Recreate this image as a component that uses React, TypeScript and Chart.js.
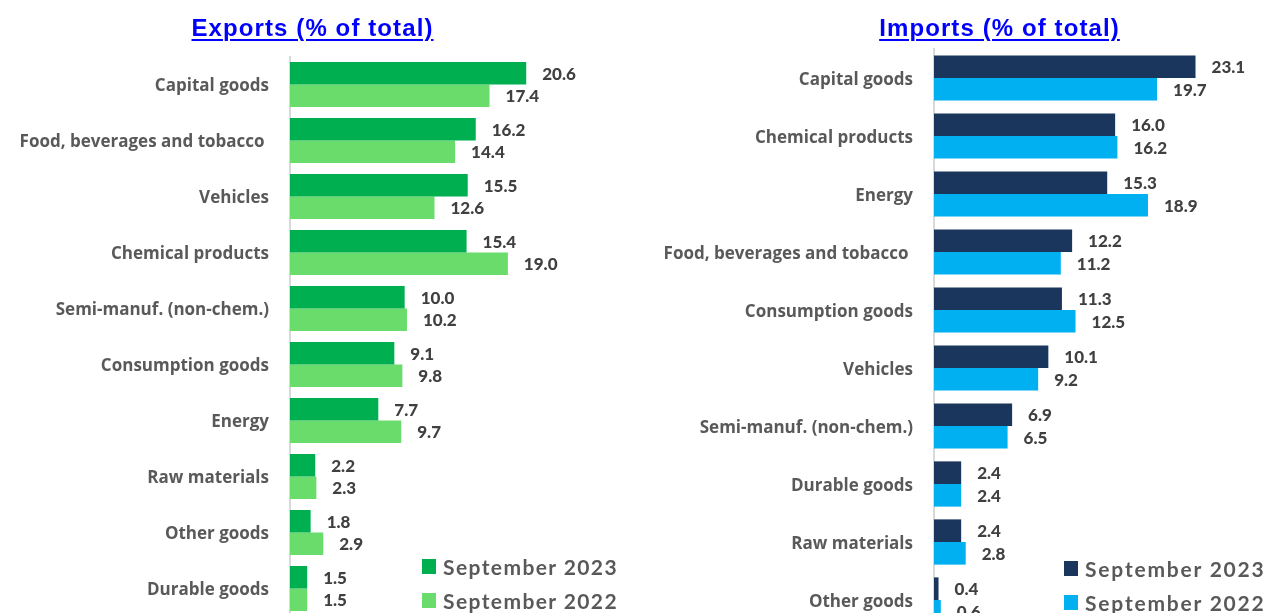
import React, { useEffect, useRef } from "react";
import { Chart, registerables } from "chart.js";

Chart.register(...registerables);

const exportCategories = [
  "Capital goods",
  "Food, beverages and tobacco ",
  "Vehicles",
  "Chemical products",
  "Semi-manuf. (non-chem.)",
  "Consumption goods",
  "Energy",
  "Raw materials",
  "Other goods",
  "Durable goods",
];
const exports2023 = [20.6, 16.2, 15.5, 15.4, 10.0, 9.1, 7.7, 2.2, 1.8, 1.5];
const exports2022 = [17.4, 14.4, 12.6, 19.0, 10.2, 9.8, 9.7, 2.3, 2.9, 1.5];

const importCategories = [
  "Capital goods",
  "Chemical products",
  "Energy",
  "Food, beverages and tobacco ",
  "Consumption goods",
  "Vehicles",
  "Semi-manuf. (non-chem.)",
  "Durable goods",
  "Raw materials",
  "Other goods",
];
const imports2023 = [23.1, 16.0, 15.3, 12.2, 11.3, 10.1, 6.9, 2.4, 2.4, 0.4];
const imports2022 = [19.7, 16.2, 18.9, 11.2, 12.5, 9.2, 6.5, 2.4, 2.8, 0.6];

const seriesLabels = ["September 2023", "September 2022"];
const titles = ["Exports (% of total)", "Imports (% of total)"];

const FONT = "Lato, 'Open Sans', sans-serif";
const TICK_FONT = "'Open Sans', Lato, sans-serif";

const valueLabels = {
  id: "valueLabels",
  afterDatasetsDraw(chart: any) {
    const ctx = chart.ctx;
    ctx.save();
    ctx.font = `900 17px ${FONT}`;
    ctx.fillStyle = "#404040";
    ctx.textBaseline = "middle";
    ctx.textAlign = "left";
    chart.data.datasets.forEach((ds: any, i: number) => {
      chart.getDatasetMeta(i).data.forEach((bar: any, j: number) => {
        const v = ds.data[j] as number;
        ctx.fillText(v.toFixed(1), bar.x + 16, bar.y + 1);
      });
    });
    ctx.restore();
  },
};

type PanelProps = {
  left: number;
  width: number;
  height: number;
  padTop: number;
  padBottom: number;
  axisWidth: number;
  xMax: number;
  catPct: number;
  categories: string[];
  a: number[];
  b: number[];
  colors: string[];
};

function Panel(p: PanelProps) {
  const ref = useRef<HTMLCanvasElement | null>(null);
  useEffect(() => {
    if (!ref.current) return;
    const chart = new Chart(ref.current, {
      type: "bar",
      data: {
        labels: p.categories,
        datasets: [
          {
            label: seriesLabels[0],
            data: p.a,
            backgroundColor: p.colors[0],
            barPercentage: 1,
            categoryPercentage: p.catPct,
          },
          {
            label: seriesLabels[1],
            data: p.b,
            backgroundColor: p.colors[1],
            barPercentage: 1,
            categoryPercentage: p.catPct,
          },
        ],
      },
      options: {
        indexAxis: "y",
        responsive: false,
        animation: false,
        layout: { padding: { top: p.padTop, bottom: p.padBottom, left: 0, right: 0 } },
        plugins: {
          legend: { display: false },
          tooltip: { enabled: false },
          title: { display: false },
        },
        scales: {
          x: {
            display: false,
            min: 0,
            max: p.xMax,
            grid: { display: false },
          },
          y: {
            grid: { display: false, drawTicks: false },
            border: { display: true, color: "#d9d9d9", width: 2 },
            ticks: {
              padding: 21,
              labelOffset: 2,
              color: "#595959",
              font: { family: TICK_FONT, size: 17, weight: "bold" },
            },
            afterFit: (s: any) => {
              s.width = p.axisWidth;
            },
          },
        },
      },
      plugins: [valueLabels],
    } as any);
    return () => chart.destroy();
  }, []);
  return (
    <canvas
      ref={ref}
      width={p.width}
      height={p.height}
      style={{ position: "absolute", left: p.left, top: 0, width: p.width, height: p.height }}
    />
  );
}

function Title({ text, cx }: { text: string; cx: number }) {
  return (
    <div
      style={{
        position: "absolute",
        left: cx - 200,
        width: 400,
        top: 13,
        textAlign: "center",
        fontFamily: "'Liberation Sans', Arial, sans-serif",
        fontWeight: "bold",
        fontSize: 24,
        letterSpacing: 1.1,
        color: "#0000ff",
        textDecoration: "underline",
        textDecorationThickness: 2,
        textUnderlineOffset: 3,
        lineHeight: "30px",
        whiteSpace: "nowrap",
      }}
    >
      {text}
    </div>
  );
}

function Legend({ left, top, colors, spacing }: { left: number; top: number; colors: string[]; spacing: number }) {
  return (
    <div style={{ position: "absolute", left, top }}>
      {seriesLabels.map((l, i) => (
        <div
          key={l}
          style={{ display: "flex", alignItems: "center", height: 34 }}
        >
          <div style={{ width: 14, height: 15, background: colors[i], marginRight: 7 }} />
          <span
            style={{
              fontFamily: FONT,
              fontWeight: "bold",
              fontSize: 21,
              letterSpacing: spacing,
              color: "#595959",
              whiteSpace: "nowrap",
            }}
          >
            {l}
          </span>
        </div>
      ))}
    </div>
  );
}

export default function App() {
  const exportColors = ["#00b050", "#69dc6c"];
  const importColors = ["#1a365d", "#00b0f0"];
  return (
    <div
      style={{
        position: "fixed",
        left: 0,
        top: 0,
        width: 1268,
        height: 613,
        overflow: "hidden",
        background: "#ffffff",
      }}
    >
      <Panel
        left={0}
        width={634}
        height={660}
        padTop={56.5}
        padBottom={660 - 616.5}
        axisWidth={290}
        xMax={30}
        catPct={0.8}
        categories={exportCategories}
        a={exports2023}
        b={exports2022}
        colors={exportColors}
      />
      <Panel
        left={644}
        width={607}
        height={680}
        padTop={49}
        padBottom={680 - 629}
        axisWidth={290}
        xMax={28}
        catPct={0.78}
        categories={importCategories}
        a={imports2023}
        b={imports2022}
        colors={importColors}
      />
      <Title text={titles[0]} cx={312.5} />
      <Title text={titles[1]} cx={999.5} />
      <Legend left={422} top={549} colors={exportColors} spacing={1.4} />
      <Legend left={1064} top={551} colors={importColors} spacing={1.8} />
    </div>
  );
}
